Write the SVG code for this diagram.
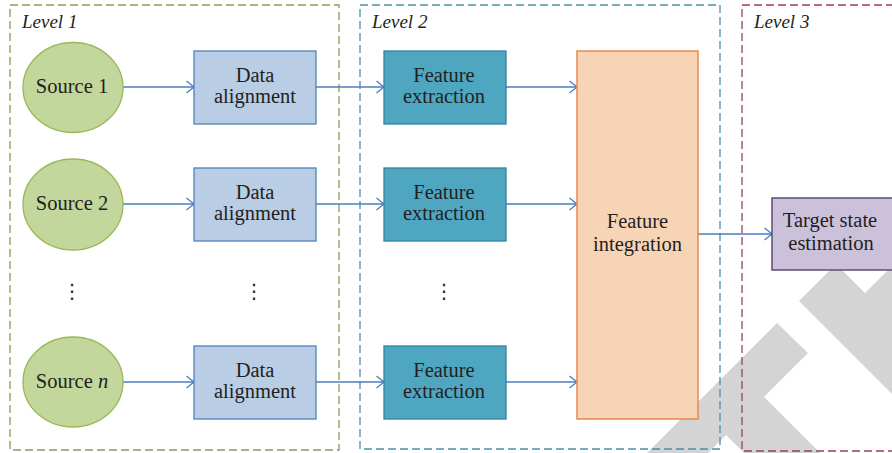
<svg xmlns="http://www.w3.org/2000/svg" width="892" height="453" viewBox="0 0 892 453">
  <style>
    .lbl { font-family: "Liberation Serif", "Times New Roman", serif; font-size: 20.5px; fill: #231f20; text-anchor: middle; }
    .lvl { font-family: "Liberation Serif", "Times New Roman", serif; font-size: 19px; font-style: italic; fill: #231f20; }
    .dots { font-family: "DejaVu Sans", sans-serif; font-size: 20px; fill: #231f20; text-anchor: middle; }
    .src { fill: #c3d69b; stroke: #98b954; stroke-width: 1.3; }
    .align { fill: #b9cde5; stroke: #4f81bd; stroke-width: 1.3; }
    .feat { fill: #4fa6c0; stroke: #31859c; stroke-width: 1.3; }
    .integ { fill: #f8d4b7; stroke: #e8894a; stroke-width: 1.5; }
    .target { fill: #ccc1da; stroke: #604a7b; stroke-width: 1.5; }
    .wire { stroke: #4a7ebb; stroke-width: 1.3; fill: none; marker-end: url(#arrow); }
    .frame { fill: none; stroke-width: 1.3; stroke-dasharray: 8 4; }
  </style>
  <defs>
    <marker id="arrow" viewBox="0 0 10 14" refX="9" refY="7" markerWidth="10" markerHeight="14" markerUnits="userSpaceOnUse" orient="auto">
      <path d="M1.5,1 L9,7 L1.5,13" fill="none" stroke="#4a7ebb" stroke-width="1.3"/>
    </marker>
  </defs>

  <rect width="892" height="453" fill="#ffffff"/>

  <!-- background mark -->
  <g id="mark" fill="#d4d4d4">
    <polygon points="647,453 777,323 808,353 764,397 820,453 744,453 726,435 708,453"/>
    <polygon points="799,301 836,264 865,293 892,266 892,394"/>
  </g>

  <!-- level frames -->
  <g id="level1">
    <rect class="frame" x="10" y="5" width="329" height="445" stroke="#8e9b52"/>
    <text class="lvl" x="22" y="28">Level 1</text>
  </g>
  <g id="level2">
    <rect class="frame" x="360" y="5" width="360" height="444" stroke="#4a90a8"/>
    <text class="lvl" x="372" y="28">Level 2</text>
  </g>
  <g id="level3">
    <rect class="frame" x="742" y="5" width="160" height="446" stroke="#a0404a"/>
    <text class="lvl" x="754" y="28">Level 3</text>
  </g>

  <!-- connectors -->
  <g id="connectors">
    <line class="wire" x1="123" y1="87" x2="194" y2="87"/>
    <line class="wire" x1="123" y1="204" x2="194" y2="204"/>
    <line class="wire" x1="123" y1="382" x2="194" y2="382"/>
    <line class="wire" x1="316" y1="87" x2="384" y2="87"/>
    <line class="wire" x1="316" y1="204" x2="384" y2="204"/>
    <line class="wire" x1="316" y1="382" x2="384" y2="382"/>
    <line class="wire" x1="506" y1="87" x2="577" y2="87"/>
    <line class="wire" x1="506" y1="204" x2="577" y2="204"/>
    <line class="wire" x1="506" y1="382" x2="577" y2="382"/>
    <line class="wire" x1="698" y1="234" x2="772" y2="234"/>
  </g>

  <!-- sources -->
  <g id="source1">
    <ellipse class="src" cx="73" cy="87.5" rx="50" ry="45"/>
    <text class="lbl" x="72" y="93">Source 1</text>
  </g>
  <g id="source2">
    <ellipse class="src" cx="73" cy="204.5" rx="50" ry="45.5"/>
    <text class="lbl" x="72" y="210">Source 2</text>
  </g>
  <g id="sourceN">
    <ellipse class="src" cx="73" cy="382" rx="50" ry="45"/>
    <text class="lbl" x="72" y="388">Source <tspan font-style="italic">n</tspan></text>
  </g>

  <!-- data alignment -->
  <g id="align1">
    <rect class="align" x="194" y="51" width="122" height="73"/>
    <text class="lbl" x="255" y="82">Data</text>
    <text class="lbl" x="255" y="103">alignment</text>
  </g>
  <g id="align2">
    <rect class="align" x="194" y="168" width="122" height="73"/>
    <text class="lbl" x="255" y="199">Data</text>
    <text class="lbl" x="255" y="220">alignment</text>
  </g>
  <g id="alignN">
    <rect class="align" x="194" y="346" width="122" height="73"/>
    <text class="lbl" x="255" y="377">Data</text>
    <text class="lbl" x="255" y="398">alignment</text>
  </g>

  <!-- feature extraction -->
  <g id="extract1">
    <rect class="feat" x="384" y="51" width="122" height="73"/>
    <text class="lbl" x="444" y="82">Feature</text>
    <text class="lbl" x="444" y="103">extraction</text>
  </g>
  <g id="extract2">
    <rect class="feat" x="384" y="168" width="122" height="73"/>
    <text class="lbl" x="444" y="199">Feature</text>
    <text class="lbl" x="444" y="220">extraction</text>
  </g>
  <g id="extractN">
    <rect class="feat" x="384" y="346" width="122" height="73"/>
    <text class="lbl" x="444" y="377">Feature</text>
    <text class="lbl" x="444" y="398">extraction</text>
  </g>

  <!-- feature integration -->
  <g id="integration">
    <rect class="integ" x="577" y="51" width="121" height="368"/>
    <text class="lbl" x="637.5" y="228">Feature</text>
    <text class="lbl" x="637.5" y="251">integration</text>
  </g>

  <!-- target state estimation -->
  <g id="target">
    <rect class="target" x="772" y="198" width="130" height="72"/>
    <text class="lbl" x="830" y="227">Target state</text>
    <text class="lbl" x="831" y="250">estimation</text>
  </g>

  <!-- vertical ellipses between rows -->
  <g id="ellipses">
    <text class="dots" x="72" y="298">⋮</text>
    <text class="dots" x="254" y="298">⋮</text>
    <text class="dots" x="444" y="298">⋮</text>
  </g>
</svg>
